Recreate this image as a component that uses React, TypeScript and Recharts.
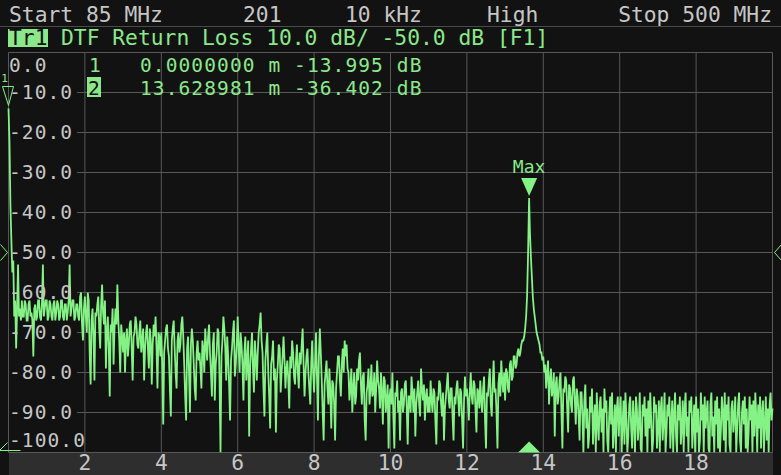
import { CartesianGrid, Line, LineChart, ReferenceDot, XAxis, YAxis } from 'recharts'

const W = 781
const H = 475
const TOP = 52.5
const BOTTOM = 452.5
const LEFT = 8.5
const RIGHT = 772.5
const LABEL_END = 77

const GREEN = '#84f284'
const TEXT_GREEN = '#8ae88a'
const GRAY = '#c6c6c6'
const GRID = '#585858'
const BG = '#121212'
const FONT = "'DejaVu Sans Mono', monospace"
const FS = 21.3
// smaller face, same pitch, for the stacked rows
const FS_ROW = 19.5
const LS_ROW = 1.1

// DTF trace, one reading every 2.5 cm
const STEP = 0.025

const rl0to5 = [
  -13.995, -22, -38, -47, -55, -52, -66, -62, -74, -64, -53, -66, -64, -67, -62, -66, -66, -62, -63, -67,
  -67, -63, -62, -66, -65, -67, -76, -64, -63, -67, -66, -62, -62, -66, -67, -63, -53, -66, -64, -62,
  -62, -67, -66, -62, -63, -66, -67, -63, -62, -67, -65, -62, -63, -67, -66, -62, -62, -66, -67, -63,
  -63, -67, -65, -62, -53, -66, -64, -62, -62, -67, -66, -63, -63, -66, -67, -61, -60, -68, -72, -64,
  -61, -66, -70, -60, -62, -75, -83, -67, -64, -71, -82, -65, -66, -63, -61, -69, -74, -63, -58, -65,
  -68, -62, -79, -70, -66, -74, -86, -68, -70, -64, -78, -69, -64, -68, -58, -67, -72, -80, -68, -71,
  -75, -70, -80, -72, -69, -76, -73, -68, -67, -74, -82, -71, -70, -66, -68, -73, -74, -70, -67, -75,
  -72, -69, -82, -74, -70, -68, -74, -79, -69, -72, -83, -73, -68, -71, -66, -74, -84, -70, -71, -76,
  -70, -78, -93, -75, -72, -69, -68, -74, -76, -84, -91, -72, -69, -67, -74, -80, -84, -72, -70, -75,
  -73, -68, -66, -71, -78, -86, -92, -74, -71, -80, -90, -73, -69, -72, -78, -84, -87, -75, -72, -77,
]

const rl5to10 = [
  -75, -79, -84, -72, -74, -80, -69, -73, -77, -71, -68, -75, -80, -86, -73, -70, -87, -78, -75, -69,
  -70, -82, -100, -76, -72, -66, -69, -74, -82, -71, -76, -83, -92, -77, -74, -70, -67, -81, -78, -73,
  -66, -74, -80, -70, -73, -78, -87, -75, -71, -82, -77, -72, -96, -79, -74, -70, -79, -85, -72, -76,
  -82, -75, -70, -68, -65, -72, -75, -84, -91, -77, -73, -70, -80, -86, -94, -78, -76, -72, -82, -79,
  -95, -82, -78, -73, -74, -85, -80, -76, -71, -77, -84, -79, -77, -82, -89, -76, -79, -72, -75, -81,
  -83, -77, -73, -80, -84, -75, -78, -73, -69, -78, -86, -80, -76, -74, -80, -84, -88, -78, -72, -80,
  -85, -78, -70, -81, -92, -76, -69, -75, -82, -90, -97, -83, -80, -77, -84, -88, -79, -85, -94, -82,
  -83, -88, -97, -84, -80, -76, -76, -82, -86, -78, -74, -80, -72, -76, -73, -79, -80, -87, -84, -79,
  -90, -84, -80, -88, -86, -79, -82, -77, -75, -83, -88, -81, -80, -92, -97, -85, -83, -79, -88, -84,
  -78, -86, -85, -80, -90, -84, -77, -82, -84, -89, -80, -85, -93, -81, -82, -90, -87, -83, -99, -86,
]

const rl10to15 = [
  -84, -88, -80, -91, -99, -85, -86, -82, -90, -87, -97, -85, -84, -90, -88, -83, -82, -89, -98, -86,
  -86, -90, -81, -85, -90, -84, -96, -88, -85, -82, -88, -91, -79, -84, -87, -83, -92, -86, -84, -90,
  -86, -90, -82, -87, -90, -84, -85, -92, -98, -86, -87, -82, -83, -88, -91, -85, -97, -89, -86, -83,
  -80, -87, -89, -84, -84, -91, -97, -86, -88, -84, -82, -87, -91, -84, -85, -92, -99, -87, -81, -86,
  -84, -87, -92, -85, -80, -86, -88, -82, -83, -89, -95, -84, -85, -89, -82, -87, -90, -84, -81, -92,
  -99, -85, -86, -82, -79, -88, -91, -83, -77, -85, -84, -90, -99, -83, -80, -86, -77, -82, -85, -80,
  -87, -79, -80, -84, -85, -78, -77, -82, -81, -76, -76, -79, -78, -75, -74, -76, -75, -73, -72, -72,
  -71, -69, -66, -61, -51, -38, -45, -51, -56, -61, -64, -66, -68, -70, -71, -72, -73, -75, -75, -77,
  -76, -80, -78, -84, -80, -77, -88, -82, -79, -86, -84, -80, -96, -83, -81, -88, -86, -82, -80, -90,
  -99, -84, -85, -81, -82, -89, -95, -83, -84, -88, -90, -82, -81, -87, -93, -84, -86, -91, -97, -85,
]

const rl15to20 = [
  -85, -91, -100, -87, -83, -94, -89, -99, -96, -86, -90, -84, -98, -92, -88, -100, -85, -93, -97, -88,
  -86, -95, -89, -100, -84, -90, -87, -97, -100, -91, -86, -93, -85, -99, -94, -88, -100, -89, -86, -96,
  -90, -86, -100, -93, -87, -98, -85, -91, -100, -96, -88, -86, -94, -99, -87, -92, -100, -86, -89, -97,
  -93, -85, -99, -100, -88, -91, -86, -96, -89, -100, -87, -94, -85, -92, -100, -97, -86, -90, -88, -99,
  -94, -87, -100, -89, -86, -97, -92, -85, -100, -95, -88, -91, -86, -99, -93, -87, -100, -90, -85, -96,
  -100, -88, -92, -86, -98, -94, -87, -100, -89, -85, -96, -91, -100, -87, -90, -86, -99, -93, -88, -100,
  -86, -95, -89, -100, -97, -85, -92, -88, -100, -86, -94, -90, -87, -99, -100, -88, -85, -96, -91, -100,
  -87, -93, -86, -99, -89, -100, -94, -86, -90, -97, -85, -100, -88, -92, -86, -98, -100, -89, -87, -95,
  -91, -86, -100, -94, -88, -85, -97, -100, -90, -87, -93, -86, -99, -89, -100, -95, -86, -92, -88, -100,
  -87, -96, -85, -91, -100, -88, -94, -86, -99, -90, -87, -100, -93, -86, -97, -89, -100, -88, -85, -92,
  -89,
]

// marker readout
const marker1 = { d: 0, rl: -13.995 }
const marker2 = { d: 13.628981, rl: -36.402 }

const xTicks = [0, 2, 4, 6, 8, 10, 12, 14, 16, 18, 20]
const yTicks = [0, -10, -20, -30, -40, -50, -60, -70, -80, -90, -100]
const refLevel = -50

const data = [...rl0to5, ...rl5to10, ...rl10to15, ...rl15to20]
  .map((rl, i) => ({ d: +(i * STEP).toFixed(3), rl }))
  .concat([marker2])
  .sort((a, b) => a.d - b.d)

function YTick({ y, payload }: any) {
  const v = payload.value
  let base = y + 6.5
  if (v === 0) base = TOP + 19.5
  if (v === -100) base = BOTTOM - 5.5
  return (
    <text
      x={9}
      y={base}
      fill={GRAY}
      fontSize={FS_ROW}
      letterSpacing={LS_ROW}
      fontFamily={FONT}
    >
      {v.toFixed(1)}
    </text>
  )
}

function XTick({ x, payload }: any) {
  const v = payload.value
  if (v === 0 || v === 20) return <g />
  return (
    <text x={x} y={BOTTOM + 17.5} fill={GRAY} fontSize={FS} fontFamily={FONT} textAnchor='middle'>
      {v}
    </text>
  )
}

function HLine(props: any) {
  const { x1, x2, y1 } = props
  const edge = Math.abs(y1 - TOP) < 1 || Math.abs(y1 - BOTTOM) < 1
  return <line x1={edge ? x1 : LABEL_END} x2={x2} y1={y1} y2={y1} stroke={GRID} strokeWidth={1} />
}

function MaxMark({ cx, cy }: any) {
  return (
    <g>
      <polygon points={`${cx - 8},${cy - 20} ${cx + 8},${cy - 20} ${cx},${cy - 2}`} fill={GREEN} />
      <text x={cx} y={cy - 25} fill={TEXT_GREEN} fontSize={18} fontFamily={FONT} textAnchor='middle'>
        Max
      </text>
    </g>
  )
}

function BottomMark({ cx, cy }: any) {
  return <polygon points={`${cx - 11},${cy} ${cx + 11},${cy} ${cx},${cy - 11}`} fill={GREEN} />
}

function StartMark({ cx, cy }: any) {
  return (
    <g>
      <polygon
        points={`${cx - 6},${cy - 22} ${cx + 5},${cy - 22} ${cx},${cy - 3}`}
        fill='none'
        stroke={GREEN}
        strokeWidth={1}
      />
      <text x={cx - 4} y={cy - 26} fill={TEXT_GREEN} fontSize={11} fontFamily={FONT} textAnchor='middle'>
        1
      </text>
    </g>
  )
}

function LeftRef({ cx, cy }: any) {
  return (
    <polyline
      points={`${cx - 8},${cy - 8} ${cx - 1},${cy} ${cx - 8},${cy + 8}`}
      fill='none'
      stroke={GREEN}
      strokeWidth={1}
    />
  )
}

function RightRef({ cx, cy }: any) {
  return (
    <polyline
      points={`${cx + 9},${cy - 8} ${cx + 2},${cy} ${cx + 9},${cy + 8}`}
      fill='none'
      stroke={GREEN}
      strokeWidth={1}
    />
  )
}

function CornerMark({ cx, cy }: any) {
  return (
    <g stroke={GREEN} strokeWidth={1}>
      <line x1={cx - 9} y1={cy - 2} x2={cx - 1} y2={cy - 10} />
      <line x1={cx - 9} y1={cy - 2} x2={cx + 12} y2={cy - 2} />
    </g>
  )
}

export default function App() {
  return (
    <div
      style={{
        position: 'fixed',
        left: 0,
        top: 0,
        width: W,
        height: H,
        background: BG,
        overflow: 'hidden',
      }}
    >
      <div
        style={{
          position: 'absolute',
          left: LEFT,
          top: BOTTOM,
          width: RIGHT - LEFT,
          height: H - BOTTOM,
          background: '#2e2e2e',
        }}
      />
      <div style={{ position: 'absolute', left: 0, top: 0 }}>
        <LineChart
          width={W}
          height={H}
          data={data}
          margin={{ top: TOP, right: W - RIGHT, bottom: 0, left: LEFT - 1 }}
        >
          <CartesianGrid stroke={GRID} horizontal={HLine} />
          <XAxis
            dataKey='d'
            type='number'
            domain={[0, 20]}
            ticks={xTicks}
            axisLine={false}
            tickLine={false}
            height={H - BOTTOM}
            tick={XTick}
            interval={0}
          />
          <YAxis
            type='number'
            domain={[-100, 0]}
            ticks={yTicks}
            width={1}
            axisLine={false}
            tickLine={false}
            tick={YTick}
            interval={0}
            allowDataOverflow
          />
          <Line
            type='linear'
            dataKey='rl'
            stroke={GREEN}
            strokeWidth={1.8}
            dot={false}
            isAnimationActive={false}
          />
          <ReferenceDot x={marker2.d} y={marker2.rl} shape={MaxMark} ifOverflow='visible' />
          <ReferenceDot x={marker2.d} y={-100} shape={BottomMark} ifOverflow='visible' />
          <ReferenceDot x={marker1.d} y={marker1.rl} shape={StartMark} ifOverflow='visible' />
          <ReferenceDot x={0} y={refLevel} shape={LeftRef} ifOverflow='visible' />
          <ReferenceDot x={20} y={refLevel} shape={RightRef} ifOverflow='visible' />
          <ReferenceDot x={0} y={-100} shape={CornerMark} ifOverflow='visible' />
        </LineChart>
      </div>
      <svg
        width={W}
        height={H}
        style={{ position: 'absolute', left: 0, top: 0, pointerEvents: 'none' }}
        fontFamily={FONT}
        fontSize={FS}
      >
        <text x={9} y={22} fill={GRAY}>Start 85 MHz</text>
        <text x={243} y={22} fill={GRAY}>201</text>
        <text x={345} y={22} fill={GRAY}>10 kHz</text>
        <text x={487} y={22} fill={GRAY}>High</text>
        <text x={772} y={22} fill={GRAY} textAnchor='end'>Stop 500 MHz</text>
        <line x1={0} x2={W} y1={26.5} y2={26.5} stroke='#4a4a4a' />
        <rect x={8} y={29} width={40} height={18} fill={TEXT_GREEN} />
        <text x={9} y={45} fill='#111'>Tr1</text>
        <text x={61} y={45} fill={TEXT_GREEN}>DTF Return Loss 10.0 dB/ -50.0 dB [F1]</text>
        <g fontSize={FS_ROW} letterSpacing={LS_ROW}>
          <text x={89} y={72} fill={TEXT_GREEN}>1</text>
          <text x={140} y={72} fill={TEXT_GREEN}>0.0000000 m -13.995 dB</text>
          <rect x={87} y={77} width={14} height={20} fill={TEXT_GREEN} />
          <text x={88} y={95} fill='#111'>2</text>
          <text x={140} y={95} fill={TEXT_GREEN}>13.628981 m -36.402 dB</text>
        </g>
      </svg>
    </div>
  )
}
